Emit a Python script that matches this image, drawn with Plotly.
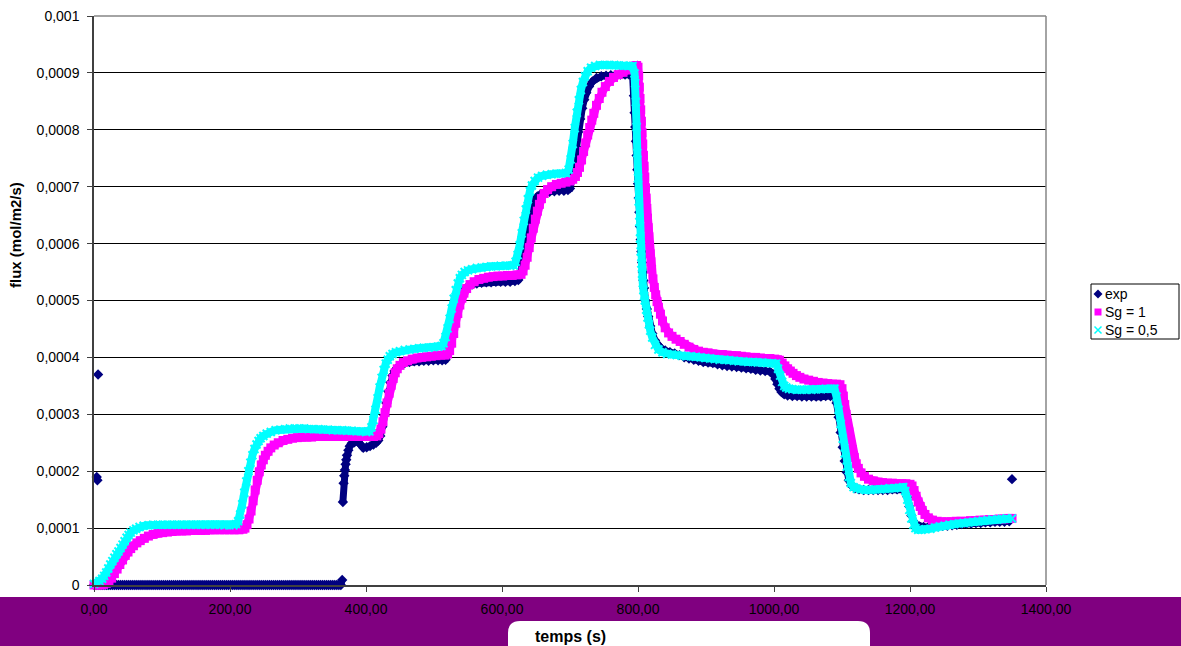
import plotly.graph_objects as go

# flux values are read in units of 1e-4 mol/m2/s
# exp: flat zero stretch, then the measured curve, plus a few isolated points
exp_t1 = [0, 3, 6, 9, 12, 15, 18, 21, 24, 27, 30, 33, 36, 39, 42, 45, 48, 51, 54, 57, 60, 63,
          66, 69, 72, 75, 78, 81, 84, 87, 90, 93, 96, 99, 102, 105, 108, 111, 114, 117, 120, 123,
          126, 129, 132, 135, 138, 141, 144, 147, 150, 153, 156, 159, 162, 165, 168, 171, 174,
          177, 180, 183, 186, 189, 192, 195, 198, 201, 204, 207, 210, 213, 216, 219, 222, 225,
          228, 231, 234, 237, 240, 243, 246, 249, 252, 255, 258, 261, 264, 267, 270, 273, 276,
          279, 282, 285, 288, 291, 294, 297, 300, 303, 306, 309, 312, 315, 318, 321, 324, 327,
          330, 333, 336, 339, 342, 345, 348, 351, 354, 357, 360, 363, 365]
exp_v1 = [0] * 122 + [0.09]
exp_t2 = [366, 367, 368, 369, 370, 371, 372, 374, 376, 379, 383, 388, 392, 396, 401, 406,
          411, 415, 418, 421, 424, 427, 430, 433, 436, 439, 442, 446, 451, 457, 464, 471, 478,
          485, 492, 499, 506, 512, 517, 520, 523, 526, 529, 532, 535, 538, 541, 545, 550, 556,
          563, 570, 577, 584, 591, 598, 605, 612, 619, 624, 627, 630, 633, 636, 639, 642, 645,
          648, 652, 657, 663, 670, 677, 684, 691, 697, 700, 703, 706, 709, 712, 715, 718, 721,
          724, 728, 733, 739, 746, 753, 760, 767, 774, 781, 787, 792, 794, 795, 796, 797, 798,
          799, 800, 801, 802, 803, 804, 805, 806, 807, 808, 809, 811, 813, 815, 818, 821, 825,
          829, 834, 840, 847, 854, 861, 868, 875, 882, 889, 896, 903, 910, 917, 924, 931, 938,
          945, 952, 959, 966, 973, 980, 987, 994, 999, 1002, 1005, 1008, 1011, 1015, 1020, 1027,
          1034, 1041, 1048, 1055, 1062, 1069, 1076, 1083, 1089, 1092, 1095, 1098, 1101, 1104,
          1107, 1110, 1114, 1119, 1125, 1132, 1139, 1146, 1153, 1160, 1167, 1174, 1181, 1188,
          1193, 1196, 1199, 1202, 1205, 1209, 1214, 1220, 1227, 1234, 1241, 1248, 1255, 1262,
          1269, 1276, 1283, 1290, 1297, 1304, 1311, 1318, 1325, 1332, 1339, 1346]
exp_v2 = [1.46, 1.79, 1.92, 2.02, 2.12, 2.2, 2.28, 2.37, 2.44, 2.49, 2.51, 2.52, 2.47, 2.41, 2.42, 2.44,
          2.47, 2.5, 2.54, 2.62, 2.78, 2.98, 3.2, 3.4, 3.56, 3.68, 3.76, 3.82, 3.87, 3.9, 3.92, 3.93, 3.93,
          3.94, 3.94, 3.95, 3.95, 3.95, 3.96, 4.05, 4.2, 4.4, 4.6, 4.78, 4.93, 5.05, 5.13, 5.2, 5.25, 5.28,
          5.3, 5.31, 5.32, 5.32, 5.33, 5.33, 5.33, 5.33, 5.34, 5.36, 5.45, 5.62, 5.85, 6.1, 6.33, 6.52, 6.66,
          6.76, 6.83, 6.87, 6.9, 6.91, 6.92, 6.93, 6.93, 6.94, 6.97, 7.15, 7.42, 7.7, 7.96, 8.19, 8.38, 8.53,
          8.65, 8.76, 8.85, 8.91, 8.94, 8.95, 8.96, 8.96, 8.97, 8.97, 8.97, 8.97, 8.6, 8.3, 8.05, 7.8, 7.55,
          7.3, 7.05, 6.8, 6.55, 6.3, 6.07, 5.86, 5.67, 5.5, 5.35, 5.22, 5.0, 4.85, 4.72, 4.55, 4.42, 4.3,
          4.22, 4.16, 4.12, 4.09, 4.07, 4.04, 4.0, 3.98, 3.96, 3.94, 3.92, 3.91, 3.9, 3.88, 3.86, 3.85, 3.84,
          3.83, 3.82, 3.81, 3.8, 3.78, 3.77, 3.76, 3.75, 3.7, 3.62, 3.53, 3.45, 3.39, 3.35, 3.33, 3.32,
          3.32, 3.31, 3.31, 3.31, 3.31, 3.31, 3.32, 3.32, 3.33, 3.2, 2.95, 2.68, 2.42, 2.18,
          1.98, 1.84, 1.75, 1.7, 1.68, 1.67, 1.67, 1.67, 1.67, 1.67, 1.67, 1.68, 1.68, 1.69,
          1.68, 1.55, 1.38, 1.22, 1.12, 1.06, 1.03, 1.02, 1.02, 1.02, 1.03, 1.04, 1.04, 1.05,
          1.06, 1.07, 1.08, 1.08, 1.09, 1.09, 1.1, 1.1, 1.11, 1.11, 1.11, 1.12]
exp_out_t = [4, 5, 6, 1350]
exp_out_v = [1.9, 1.84, 3.7, 1.86]

sg1_t = [0, 5, 10, 14, 18, 22, 26, 30, 34, 38, 42, 46, 50, 54, 58, 63, 68, 74, 80, 87, 94, 101,
         108, 115, 122, 129, 136, 143, 150, 157, 164, 171, 178, 185, 192, 199, 206, 213, 219,
         222, 225, 228, 231, 234, 237, 240, 243, 246, 249, 252, 256, 260, 265, 271, 278, 285,
         292, 299, 306, 313, 320, 327, 334, 341, 348, 355, 362, 369, 376, 383, 390, 397, 404,
         411, 416, 419, 422, 425, 428, 431, 434, 437, 440, 443, 446, 450, 455, 461, 468, 475,
         482, 489, 496, 503, 510, 516, 520, 523, 526, 529, 532, 535, 538, 541, 544, 548, 553,
         559, 566, 573, 580, 587, 594, 601, 608, 615, 622, 628, 631, 634, 637, 640, 643, 646,
         649, 652, 655, 658, 662, 667, 673, 680, 687, 694, 700, 704, 708, 711, 714, 717, 720,
         723, 726, 729, 732, 735, 739, 743, 747, 752, 758, 764, 771, 778, 784, 789, 794, 798,
         800, 801, 802, 803, 804, 805, 806, 807, 808, 809, 810, 811, 812, 813, 814, 815, 816,
         817, 818, 819, 820, 822, 824, 826, 828, 830, 833, 836, 840, 845, 850, 856, 862, 868,
         875, 882, 889, 896, 903, 910, 917, 924, 931, 938, 945, 952, 959, 966, 973, 980, 987,
         994, 1001, 1005, 1008, 1012, 1016, 1020, 1024, 1028, 1033, 1038, 1044, 1051, 1058,
         1065, 1072, 1079, 1086, 1092, 1097, 1100, 1102, 1104, 1106, 1108, 1110, 1112, 1115,
         1118, 1121, 1124, 1128, 1133, 1139, 1146, 1153, 1160, 1167, 1174, 1181, 1188, 1194,
         1200, 1203, 1206, 1209, 1212, 1215, 1218, 1222, 1227, 1233, 1240, 1247, 1254, 1261,
         1268, 1275, 1282, 1289, 1296, 1303, 1310, 1317, 1324, 1331, 1338, 1345, 1350]
sg1_v = [0, 0, 0, 0.01, 0.03, 0.07, 0.12, 0.2, 0.28, 0.36, 0.44, 0.52, 0.58, 0.64, 0.69, 0.74, 0.78,
         0.82, 0.86, 0.89, 0.91, 0.92, 0.93, 0.94, 0.95, 0.95, 0.95, 0.96, 0.96, 0.96, 0.96, 0.97,
         0.97, 0.97, 0.97, 0.97, 0.97, 0.97, 0.98, 1.0, 1.06, 1.16, 1.3, 1.48, 1.67, 1.84, 1.99,
         2.11, 2.2, 2.28, 2.35, 2.41, 2.46, 2.5, 2.54, 2.56, 2.58, 2.59, 2.6, 2.6, 2.6, 2.61, 2.61,
         2.61, 2.61, 2.61, 2.61, 2.61, 2.61, 2.61, 2.61, 2.61, 2.61, 2.61, 2.62, 2.66, 2.74, 2.87,
         3.03, 3.2, 3.37, 3.51, 3.63, 3.73, 3.8, 3.86, 3.91, 3.94, 3.97, 3.99, 4.0, 4.01, 4.02, 4.03,
         4.04, 4.04, 4.06, 4.12, 4.25, 4.42, 4.6, 4.77, 4.92, 5.04, 5.13, 5.21, 5.28, 5.33, 5.37,
         5.39, 5.41, 5.42, 5.43, 5.43, 5.44, 5.44, 5.45, 5.46, 5.52, 5.62, 5.76, 5.93, 6.1, 6.27,
         6.43, 6.57, 6.69, 6.79, 6.88, 6.95, 7.0, 7.04, 7.06, 7.08, 7.1, 7.13, 7.18, 7.25, 7.34,
         7.47, 7.62, 7.77, 7.91, 8.04, 8.17, 8.29, 8.43, 8.55, 8.66, 8.76, 8.85, 8.92, 8.97, 9.01,
         9.05, 9.09, 9.12, 9.13, 9.1, 8.95, 8.75, 8.55, 8.35, 8.15, 7.95, 7.75, 7.55, 7.36, 7.17,
         6.98, 6.8, 6.62, 6.45, 6.28, 6.12, 5.97, 5.82, 5.68, 5.55, 5.38, 5.23, 5.1, 4.98, 4.88,
         4.76, 4.64, 4.52, 4.43, 4.37, 4.32, 4.28, 4.23, 4.18, 4.14, 4.11, 4.09, 4.08, 4.06, 4.05,
         4.05, 4.04, 4.03, 4.03, 4.02, 4.01, 4.0, 4.0, 3.99, 3.98, 3.98, 3.97, 3.96, 3.95, 3.9,
         3.85, 3.8, 3.76, 3.72, 3.68, 3.65, 3.62, 3.6, 3.58, 3.56, 3.55, 3.54, 3.53, 3.53, 3.52,
         3.45, 3.32, 3.17, 3.0, 2.84, 2.69, 2.55, 2.38, 2.24, 2.13, 2.05, 1.97, 1.91, 1.86, 1.83,
         1.81, 1.8, 1.79, 1.79, 1.78, 1.78, 1.78, 1.77, 1.74, 1.66, 1.56, 1.46, 1.38, 1.31, 1.24,
         1.18, 1.14, 1.12, 1.11, 1.11, 1.11, 1.12, 1.12, 1.12, 1.13, 1.13, 1.14, 1.14, 1.15, 1.15,
         1.16, 1.16, 1.17, 1.17]

sg05_t = [0, 4, 8, 12, 15, 18, 21, 24, 27, 30, 33, 36, 39, 42, 45, 48, 51, 54, 58, 62, 67, 73,
          80, 87, 94, 101, 108, 115, 122, 129, 136, 143, 150, 157, 164, 171, 178, 185, 192, 199,
          205, 209, 212, 215, 218, 221, 224, 227, 230, 233, 236, 239, 242, 245, 249, 254, 260,
          267, 274, 281, 288, 295, 302, 309, 316, 323, 330, 337, 344, 351, 358, 365, 372, 379,
          386, 393, 400, 405, 408, 411, 414, 417, 420, 423, 426, 429, 432, 435, 439, 444, 450,
          457, 464, 471, 478, 485, 492, 499, 506, 511, 514, 517, 520, 523, 526, 529, 532, 535,
          538, 541, 545, 550, 556, 563, 570, 577, 584, 591, 598, 605, 612, 617, 620, 623, 626,
          629, 632, 635, 638, 641, 644, 648, 653, 659, 666, 673, 680, 687, 694, 698, 701, 704,
          707, 710, 713, 716, 719, 722, 726, 731, 737, 744, 751, 758, 765, 772, 779, 786, 792,
          795, 796, 797, 798, 799, 800, 801, 802, 803, 804, 805, 806, 807, 808, 809, 810, 812,
          814, 816, 818, 821, 825, 830, 836, 843, 850, 857, 864, 871, 878, 885, 892, 899, 906,
          913, 920, 927, 934, 941, 948, 955, 962, 969, 976, 983, 990, 997, 1003, 1006, 1009,
          1012, 1015, 1018, 1022, 1027, 1034, 1041, 1048, 1055, 1062, 1069, 1076, 1083, 1089,
          1092, 1095, 1098, 1101, 1104, 1107, 1110, 1113, 1117, 1122, 1128, 1135, 1142, 1149,
          1156, 1163, 1170, 1177, 1184, 1190, 1193, 1196, 1199, 1202, 1205, 1208, 1212, 1217,
          1223, 1230, 1237, 1244, 1251, 1258, 1265, 1272, 1279, 1286, 1293, 1300, 1307, 1314,
          1321, 1328, 1335, 1342, 1350]
sg05_v = [0.02, 0.04, 0.07, 0.11, 0.16, 0.22, 0.29, 0.36, 0.42, 0.48, 0.54, 0.59, 0.65, 0.71, 0.77,
          0.83, 0.88, 0.92, 0.96, 0.99, 1.02, 1.04, 1.05, 1.06, 1.06, 1.06, 1.06, 1.06, 1.06, 1.06,
          1.06, 1.06, 1.06, 1.06, 1.06, 1.06, 1.06, 1.06, 1.05, 1.05, 1.05, 1.07, 1.12, 1.24, 1.42,
          1.62, 1.82, 2.0, 2.15, 2.28, 2.39, 2.47, 2.53, 2.58, 2.62, 2.66, 2.69, 2.72, 2.73, 2.74,
          2.75, 2.75, 2.75, 2.75, 2.74, 2.74, 2.74, 2.73, 2.73, 2.72, 2.72, 2.72, 2.71, 2.71, 2.7,
          2.7, 2.69, 2.7, 2.77, 2.9, 3.08, 3.28, 3.47, 3.64, 3.78, 3.89, 3.96, 4.02, 4.06, 4.09,
          4.11, 4.13, 4.14, 4.15, 4.16, 4.17, 4.17, 4.18, 4.19, 4.2, 4.25, 4.36, 4.51, 4.68, 4.86,
          5.03, 5.18, 5.3, 5.39, 5.45, 5.5, 5.53, 5.55, 5.57, 5.58, 5.59, 5.6, 5.6, 5.61, 5.61,
          5.61, 5.62, 5.68, 5.8, 5.97, 6.18, 6.4, 6.6, 6.78, 6.92, 7.02, 7.1, 7.16, 7.19, 7.21,
          7.22, 7.23, 7.23, 7.24, 7.3, 7.48, 7.75, 8.03, 8.3, 8.52, 8.7, 8.84, 8.94, 9.03, 9.09,
          9.12, 9.14, 9.14, 9.14, 9.14, 9.13, 9.13, 9.12, 9.12, 8.99, 8.82, 8.49, 8.05, 7.59, 7.15,
          6.74, 6.38, 6.09, 5.86, 5.65, 5.47, 5.31, 5.18, 5.08, 5.0, 4.84, 4.7, 4.58, 4.47, 4.35,
          4.22, 4.14, 4.09, 4.06, 4.05, 4.04, 4.03, 4.02, 4.02, 4.01, 4.0, 3.99, 3.98, 3.97, 3.96,
          3.96, 3.95, 3.94, 3.93, 3.93, 3.92, 3.92, 3.91, 3.91, 3.9, 3.9, 3.89, 3.8, 3.68, 3.57,
          3.5, 3.47, 3.45, 3.44, 3.43, 3.43, 3.43, 3.43, 3.44, 3.44, 3.45, 3.45, 3.45, 3.31, 3.08,
          2.83, 2.57, 2.31, 2.08, 1.9, 1.79, 1.72, 1.69, 1.68, 1.67, 1.67, 1.68, 1.68, 1.69, 1.7,
          1.7, 1.71, 1.72, 1.65, 1.5, 1.32, 1.17, 1.06, 1.0, 0.97, 0.97, 0.98, 0.99, 1.01, 1.03,
          1.04, 1.06, 1.07, 1.08, 1.09, 1.1, 1.11, 1.12, 1.13, 1.14, 1.15, 1.15, 1.16, 1.17, 1.17]

x_ticks = [0, 200, 400, 600, 800, 1000, 1200, 1400]
x_labels = ["0,00", "200,00", "400,00", "600,00", "800,00", "1000,00", "1200,00", "1400,00"]
y_ticks = [0, 0.0001, 0.0002, 0.0003, 0.0004, 0.0005, 0.0006, 0.0007, 0.0008, 0.0009, 0.001]
y_labels = ["0", "0,0001", "0,0002", "0,0003", "0,0004", "0,0005", "0,0006", "0,0007",
            "0,0008", "0,0009", "0,001"]

NAVY, MAGENTA, CYAN, PURPLE = "#000080", "#FF00FF", "#00FFFF", "#800080"
FONT = "Liberation Sans, Arial, sans-serif"

# plot area in pixels, used to place things outside the axes
W, H = 1181, 646
L, R, T, B = 94, 1046, 16, 585


def px(x):
    return (x - L) / (R - L)


def py(y):
    return (B - y) / (B - T)


def flux(vals):
    return [None if v is None else v * 1e-4 for v in vals]


# exp: segments joined with gaps so the isolated points stay isolated
exp_x = exp_t1 + [None] + exp_t2
exp_y = exp_v1 + [None] + exp_v2
for t, v in zip(exp_out_t, exp_out_v):
    exp_x += [None, t]
    exp_y += [None, v]

fig = go.Figure()
fig.add_trace(go.Scatter(x=exp_x, y=flux(exp_y), mode="lines+markers", name="exp",
                         line=dict(color=NAVY, width=7),
                         marker=dict(symbol="diamond", size=8, color=NAVY),
                         cliponaxis=False, showlegend=False))
fig.add_trace(go.Scatter(x=sg1_t, y=flux(sg1_v), mode="lines+markers", name="Sg = 1",
                         line=dict(color=MAGENTA, width=8),
                         marker=dict(symbol="square", size=9, color=MAGENTA),
                         cliponaxis=False, showlegend=False))
fig.add_trace(go.Scatter(x=sg05_t, y=flux(sg05_v), mode="lines+markers", name="Sg = 0,5",
                         line=dict(color=CYAN, width=8),
                         marker=dict(symbol="x-thin", size=8, color=CYAN,
                                     line=dict(color=CYAN, width=2)),
                         cliponaxis=False, showlegend=False))

shapes = []
# purple band under the x axis and the white rounded tab holding the axis title
shapes.append(dict(type="rect", xref="paper", yref="paper", layer="below",
                   x0=px(0), x1=px(W), y0=py(H + 2), y1=py(597),
                   fillcolor=PURPLE, line=dict(width=0)))
bx0, bx1, bt, bb, rr = 508, 870, 621, H + 2, 12
tab = (f"M {px(bx0)},{py(bb)} L {px(bx0)},{py(bt + rr)} Q {px(bx0)},{py(bt)} {px(bx0 + rr)},{py(bt)} "
       f"L {px(bx1 - rr)},{py(bt)} Q {px(bx1)},{py(bt)} {px(bx1)},{py(bt + rr)} L {px(bx1)},{py(bb)} Z")
shapes.append(dict(type="path", xref="paper", yref="paper", layer="below", path=tab,
                   fillcolor="white", line=dict(width=0)))
# grey frame on top and right
shapes.append(dict(type="line", xref="paper", yref="paper", x0=0, x1=1, y0=1, y1=1,
                   line=dict(color="#868686", width=1.5)))
shapes.append(dict(type="line", xref="paper", yref="paper", x0=1, x1=1, y0=0, y1=1,
                   line=dict(color="#868686", width=1.5)))

# legend box
lx0, lx1, ly0, ly1 = 1091, 1179, 284, 339
shapes.append(dict(type="rect", xref="paper", yref="paper", x0=px(lx0), x1=px(lx1),
                   y0=py(ly1), y1=py(ly0), fillcolor="white", line=dict(color="black", width=1)))
sx, rows = 1098, [294, 312, 330]
d = 4.5
shapes.append(dict(type="path", xref="paper", yref="paper",
                   path=f"M {px(sx)},{py(rows[0] - d)} L {px(sx + d)},{py(rows[0])} "
                        f"L {px(sx)},{py(rows[0] + d)} L {px(sx - d)},{py(rows[0])} Z",
                   fillcolor=NAVY, line=dict(width=0)))
shapes.append(dict(type="rect", xref="paper", yref="paper",
                   x0=px(sx - 3.5), x1=px(sx + 3.5), y0=py(rows[1] + 3.5), y1=py(rows[1] - 3.5),
                   fillcolor=MAGENTA, line=dict(width=0)))
k = 3.5
shapes.append(dict(type="path", xref="paper", yref="paper",
                   path=f"M {px(sx - k)},{py(rows[2] - k)} L {px(sx + k)},{py(rows[2] + k)} "
                        f"M {px(sx - k)},{py(rows[2] + k)} L {px(sx + k)},{py(rows[2] - k)}",
                   line=dict(color=CYAN, width=1.5)))

annotations = []
for name, row in zip(["exp", "Sg = 1", "Sg = 0,5"], rows):
    annotations.append(dict(text=name, xref="paper", yref="paper", x=px(1103), y=py(row),
                            xanchor="left", yanchor="middle", showarrow=False,
                            font=dict(size=14, color="black", family=FONT)))
annotations.append(dict(text="<b>flux (mol/m2/s)</b>", xref="paper", yref="paper",
                        x=px(15), y=py(235), textangle=-90, showarrow=False,
                        xanchor="center", yanchor="middle",
                        font=dict(size=15, color="black", family=FONT)))
annotations.append(dict(text="<b>temps (s)</b>", xref="paper", yref="paper",
                        x=px(570), y=py(636), showarrow=False,
                        xanchor="center", yanchor="middle",
                        font=dict(size=16, color="black", family=FONT)))

fig.update_layout(
    width=W, height=H,
    margin=dict(l=L, r=W - R, t=T, b=H - B, autoexpand=False),
    paper_bgcolor="white", plot_bgcolor="white",
    font=dict(family=FONT, size=14, color="black"),
    showlegend=False,
    shapes=shapes,
    annotations=annotations,
    xaxis=dict(range=[0, 1400], tickvals=x_ticks, ticktext=x_labels,
               showgrid=False, zeroline=False, showline=True, linecolor="#404040", linewidth=1.5,
               ticks="outside", ticklen=5, tickcolor="#404040", ticklabelstandoff=5),
    yaxis=dict(range=[0, 0.001], tickvals=y_ticks, ticktext=y_labels,
               showgrid=True, gridcolor="black", gridwidth=1, zeroline=False,
               showline=True, linecolor="#404040", linewidth=1.5,
               ticks="outside", ticklen=5, tickcolor="#404040", ticklabelstandoff=5),
)

# the page's default body margin would shift the figure; remove it
fig.write_html("out.html", config={"displayModeBar": False},
               post_script="document.body.style.margin='0';")
